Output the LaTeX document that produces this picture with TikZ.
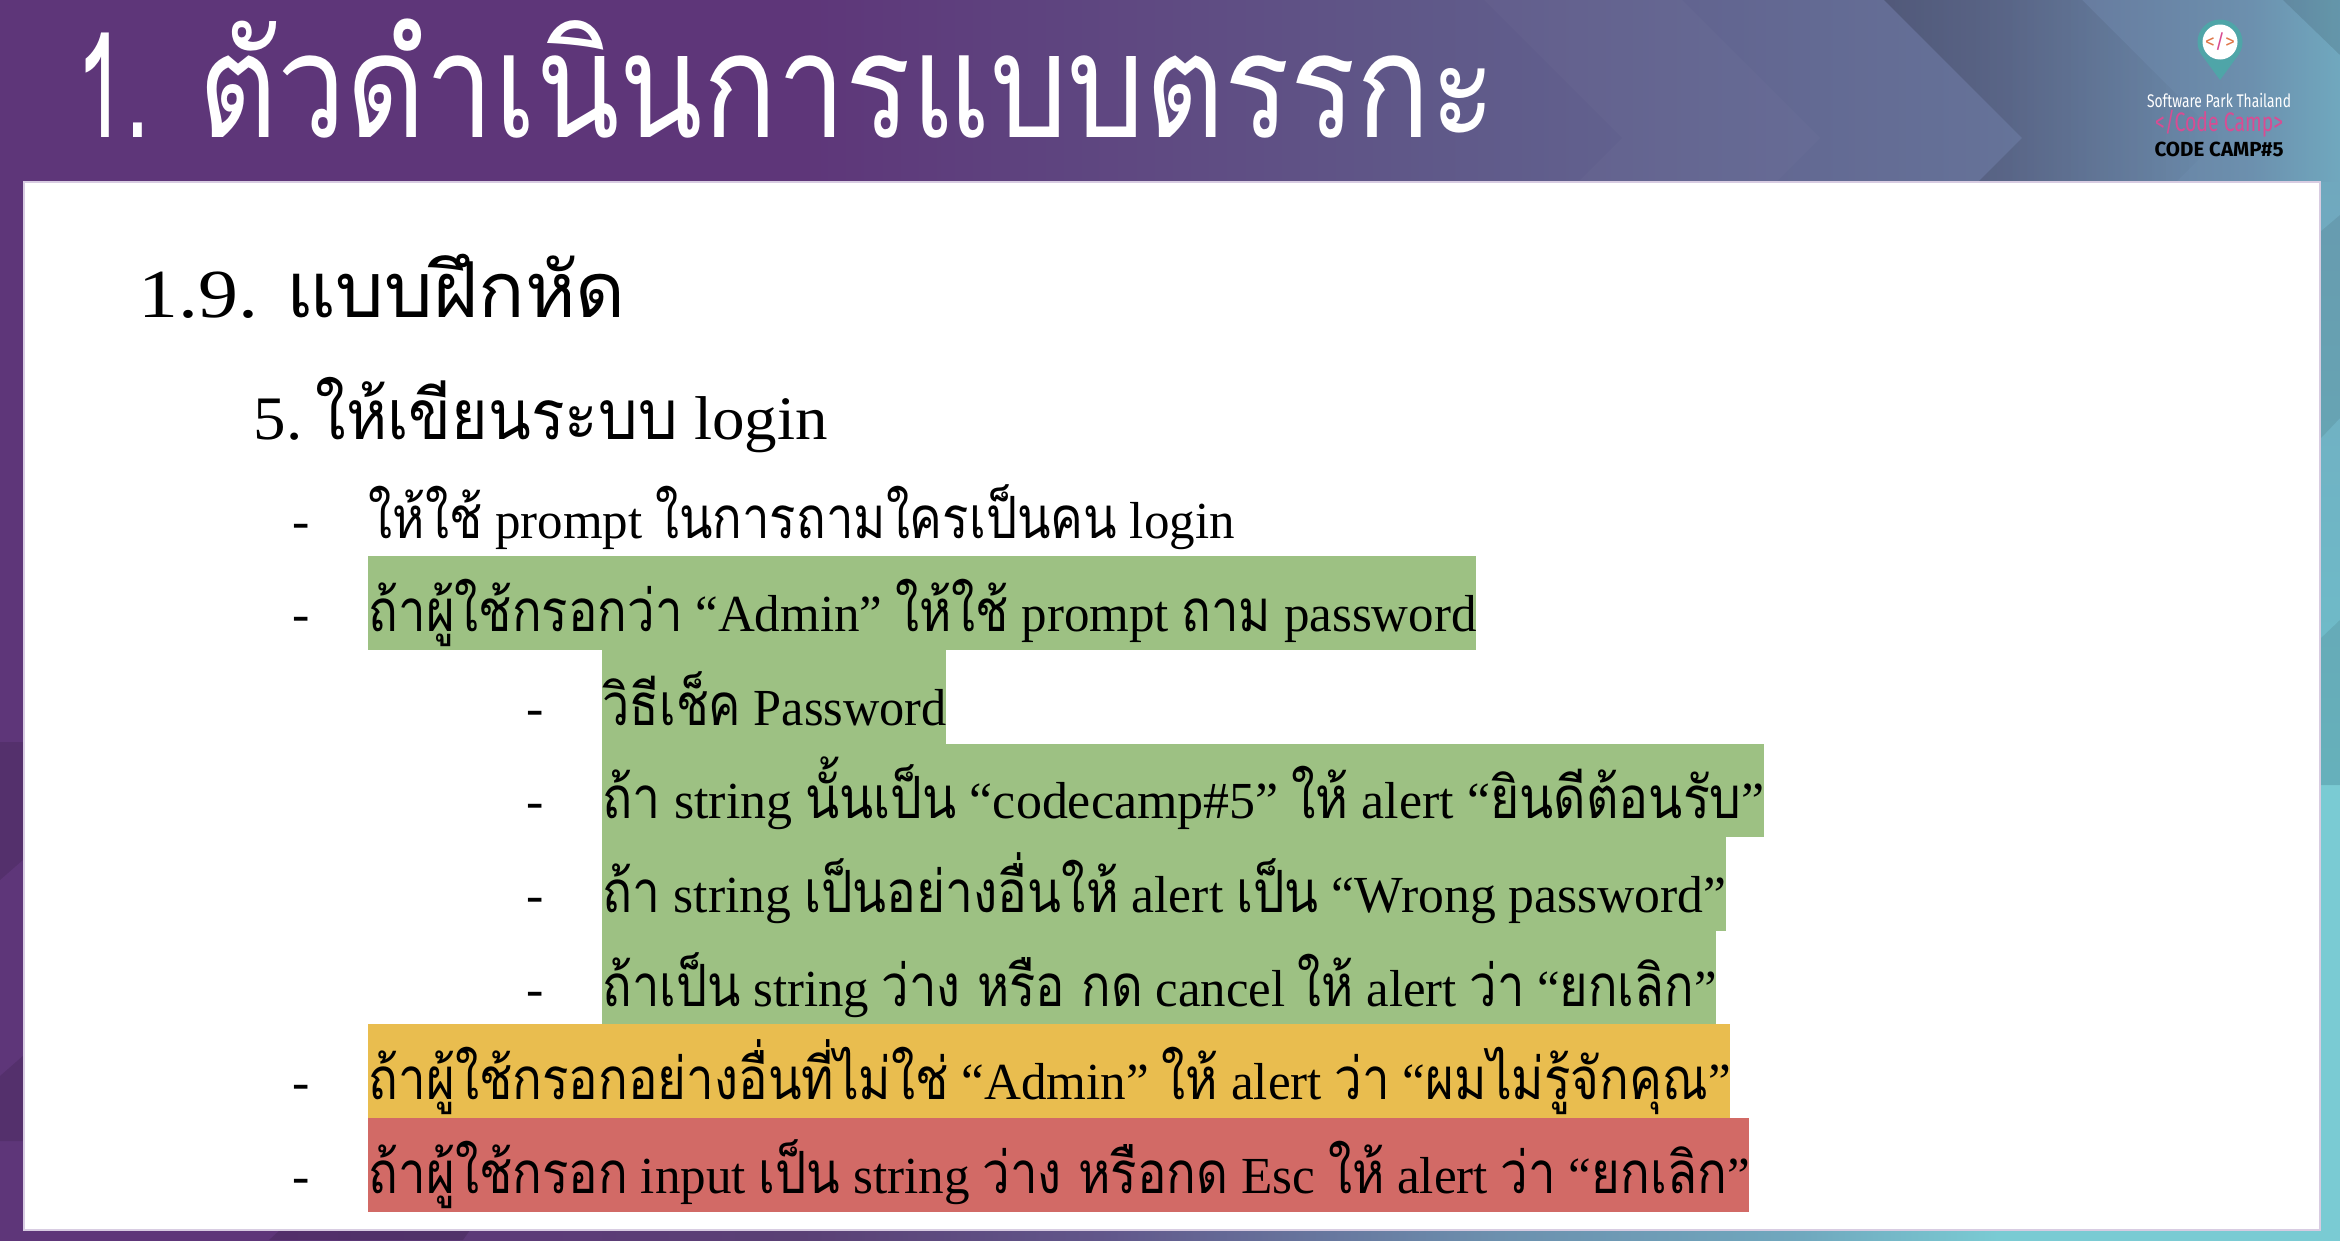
\documentclass[tikz,border=0pt]{standalone}
\usepackage{graphicx}
\usepackage{fontspec}
\setmainfont{Liberation Serif}
\setsansfont{Fira Sans}
\newfontfamily\thaifont[Script=Thai,Scale=1.12,FakeStretch=0.86]{Loma}
\newfontfamily\titlefont[Script=Thai,Scale=1.12]{Loma}
\newcommand{\tht}[1]{{\thaifont #1}}
\newcommand{\fitline}[2]{\resizebox{#1}{\height}{#2}}
\usetikzlibrary{fadings}

\definecolor{bgPurple}{HTML}{5E3679}
\definecolor{bgDusk}{HTML}{5A4075}
\definecolor{bgViolet}{HTML}{5F5788}
\definecolor{bgDenim}{HTML}{657298}
\definecolor{bgSlate}{HTML}{61568A}
\definecolor{bgSteel}{HTML}{6C90AE}
\definecolor{bgBlue}{HTML}{70A8BE}
\definecolor{bgLagoon}{HTML}{6FC0CB}
\definecolor{bgTeal}{HTML}{7ACBD3}
\definecolor{panelEdge}{HTML}{D8CCE2}
\definecolor{barGreen}{HTML}{9DC183}
\definecolor{barYellow}{HTML}{E9BD4F}
\definecolor{barRed}{HTML}{D26A66}
\definecolor{pinTeal}{HTML}{4FA5A8}
\definecolor{logoPink}{HTML}{D94C93}
\definecolor{logoOrange}{HTML}{E0784A}

\pgfdeclarehorizontalshading{titlebg}{100bp}{color(0bp)=(bgPurple); color(42.1bp)=(bgPurple);
  color(54.9bp)=(bgViolet); color(67.7bp)=(bgDenim); color(73.1bp)=(bgSteel);
  color(75bp)=(bgBlue); color(100bp)=(bgBlue)}
\pgfdeclarehorizontalshading{footbg}{100bp}{color(0bp)=(bgPurple); color(30.8bp)=(bgPurple);
  color(42.1bp)=(bgDusk); color(48.5bp)=(bgSlate); color(57bp)=(bgSteel);
  color(63.5bp)=(bgBlue); color(67.7bp)=(bgTeal); color(100bp)=(bgTeal)}

\tikzset{
  titleline/.style={anchor=base west, inner sep=0pt, text=white, font=\fontsize{37}{44}\selectfont},
  headline/.style={anchor=base west, inner sep=0pt, font=\fontsize{19.6}{24}\selectfont},
  subline/.style={anchor=base west, inner sep=0pt, font=\fontsize{17.6}{22}\selectfont},
  bodyline/.style={anchor=base west, inner sep=0pt, font=\fontsize{14.8}{18}\selectfont},
  dashmark/.style={anchor=base, inner sep=0pt, font=\fontsize{14.8}{18}\selectfont},
  logotext/.style={anchor=base, inner sep=0pt},
}

\begin{document}
\begin{tikzpicture}[x=0.1mm, y=-0.1mm]
\useasboundingbox (0,0) rectangle (2340,1240);

% background
\fill[bgPurple] (0,0) rectangle (2340,1240);
\shade[shading=titlebg] (0,0) rectangle (2340,182);
\shade[shading=footbg] (0,1230) rectangle (2340,1240);
\shade[top color=bgBlue, bottom color=bgLagoon] (2320,182) rectangle (2340,785);
\fill[bgTeal] (2320,785) rectangle (2340,1240);

% chevrons in the title bar
\fill[white, fill opacity=.02] (1484,0) -- (1622,138) -- (1578,182) -- (1776,182) -- (1820,138) -- (1682,0) -- cycle;
\fill[black, fill opacity=.18, path fading=east] (1884,0) -- (2022,138) -- (1978,182) -- (2176,182) -- (2220,138) -- (2082,0) -- cycle;
\fill[black, fill opacity=.10] (2283,0) -- (2340,0) -- (2340,55) -- cycle;

% bands on the side strips
\fill[black, fill opacity=.10] (0,742) -- (24,742) -- (24,859) -- (0,880) -- cycle;
\fill[black, fill opacity=.10] (0,1076) -- (24,1055) -- (24,1141) -- (0,1141) -- cycle;
\fill[black, fill opacity=.08] (2320,232) -- (2340,215) -- (2340,418) -- (2320,439) -- cycle;
\fill[black, fill opacity=.08] (2320,639) -- (2340,620) -- (2340,785) -- (2320,785) -- cycle;
\fill[black, fill opacity=.12] (269,1240) -- (280,1230) -- (470,1230) -- (463,1240) -- cycle;

% panel
\draw[fill=white, draw=panelEdge, line width=0.2mm] (24,182) rectangle (2320,1230);

% title and logo
\node[titleline] (title) at (76,137) {\fitline{141.9mm}{\titlefont\scalebox{.72}[1]{1.}\hspace{.06em} ตัวดำเนินการแบบตรรกะ}};

\fill[pinTeal] (2220,42) circle[radius=22.5];
\fill[pinTeal] (2220,80) -- (2201.9,55.3) -- (2238.1,55.3) -- cycle;
\fill[white] (2220,42) circle[radius=17.5];
\node[logotext, font=\sffamily\fontsize{5.6}{7}\selectfont] (logomark) at (2220,48) {\textcolor{logoOrange}{<}\textcolor{logoPink}{/}\textcolor{logoOrange}{>}};
\node[logotext, text=white, font=\sffamily\fontsize{5.2}{6}\selectfont] (logopark) at (2219,107) {\fitline{14.4mm}{Software Park Thailand}};
\node[logotext, text=logoPink, font=\sffamily\fontsize{7.6}{9}\selectfont] (logocamp) at (2219,131) {\fitline{12.8mm}{</Code Camp>}};
\node[logotext, text=black, font=\sffamily\bfseries\fontsize{5.8}{7}\selectfont] (logonum) at (2219,156) {\fitline{12.9mm}{CODE CAMP\#5}};

% highlight bars
\fill[barGreen] (368,556) rectangle (1476,650);
\fill[barGreen] (602,650) rectangle (946,744);
\fill[barGreen] (602,744) rectangle (1764,837);
\fill[barGreen] (602,837) rectangle (1726,931);
\fill[barGreen] (602,931) rectangle (1716,1024);
\fill[barYellow] (368,1024) rectangle (1730,1118);
\fill[barRed] (368,1118) rectangle (1749,1212);

% headings
\node[headline] (head) at (138,317) {\fitline{48.7mm}{1.9.\hspace{.35em}\tht{แบบฝึกหัด}}};
\node[subline] (task) at (253,439) {\fitline{57.4mm}{5.\hspace{.2em}\tht{ให้เขียนระบบ} login}};

% dashes
\foreach \i/\x/\y in {1/301/538, 2/301/631, 3/535/725, 4/535/818, 5/535/912, 6/535/1006, 7/301/1099, 8/301/1193}
\node[dashmark] (dash\i) at (\x,\y) {-};

% lines
\node[bodyline] (line1) at (368,538) {\fitline{86.6mm}{\tht{ให้ใช้} prompt \tht{ในการถามใครเป็นคน} login}};
\node[bodyline] (line2) at (368,631) {\fitline{110.8mm}{\tht{ถ้าผู้ใช้กรอกว่า} “Admin” \tht{ให้ใช้} prompt \tht{ถาม} password}};
\node[bodyline] (line3) at (602,725) {\fitline{34.4mm}{\tht{วิธีเช็ค} Password}};
\node[bodyline] (line4) at (602,818) {\fitline{116.2mm}{\tht{ถ้า} string \tht{นั้นเป็น} “codecamp\#5” \tht{ให้} alert “\tht{ยินดีต้อนรับ}”}};
\node[bodyline] (line5) at (602,912) {\fitline{112.4mm}{\tht{ถ้า} string \tht{เป็นอย่างอื่นให้} alert \tht{เป็น} “Wrong password”}};
\node[bodyline] (line6) at (602,1006) {\fitline{111.4mm}{\tht{ถ้าเป็น} string \tht{ว่าง หรือ กด} cancel \tht{ให้} alert \tht{ว่า} “\tht{ยกเลิก}”}};
\node[bodyline] (line7) at (368,1099) {\fitline{136.2mm}{\tht{ถ้าผู้ใช้กรอกอย่างอื่นที่ไม่ใช่} “Admin” \tht{ให้} alert \tht{ว่า} “\tht{ผมไม่รู้จักคุณ}”}};
\node[bodyline] (line8) at (368,1193) {\fitline{138.1mm}{\tht{ถ้าผู้ใช้กรอก} input \tht{เป็น} string \tht{ว่าง หรือกด} Esc \tht{ให้} alert \tht{ว่า} “\tht{ยกเลิก}”}};
\end{tikzpicture}
\end{document}
